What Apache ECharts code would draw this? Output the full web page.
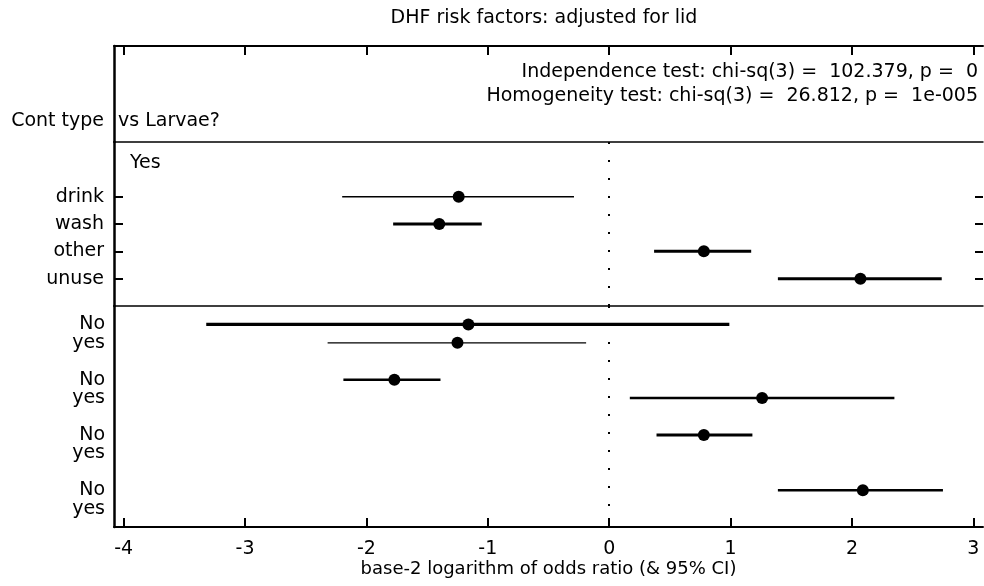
<!DOCTYPE html>
<html><head><meta charset="utf-8">
<script src="https://cdn.jsdelivr.net/npm/echarts@6/dist/echarts.min.js"></script>
<style>html,body{margin:0;padding:0;background:#fff}#chart{width:984px;height:586px}</style>
</head><body><div id="chart"></div>
<script>
// ---------- data ----------
const xTicks = [-4, -3, -2, -1, 0, 1, 2, 3];
const upperRows = ['drink', 'wash', 'other', 'unuse'];
const upperEst = [-1.24, -1.40, 0.78, 2.07];
const upperLo  = [-2.20, -1.78, 0.37, 1.39];
const upperHi  = [-0.29, -1.05, 1.17, 2.74];
const lowerLevels = ['No', 'yes'];
const lowerGroupCount = 4;
const lowerEst = [-1.16, -1.25, -1.77, 1.26, 0.78, null, 2.09, null];
const lowerLo  = [-3.32, -2.32, -2.19, 0.17, 0.39, null, 1.39, null];
const lowerHi  = [ 0.99, -0.19, -1.39, 2.35, 1.18, null, 2.75, null];
const titleText = 'DHF risk factors: adjusted for lid';
const factorLabel = 'Cont type';
const outcomeLabel = 'vs Larvae?';
const upperGroupLabel = 'Yes';
const testLines = [
  'Independence test: chi-sq(3) =  102.379, p =  0',
  'Homogeneity test: chi-sq(3) =  26.812, p =  1e-005'
];
const xName = 'base-2 logarithm of odds ratio (& 95% CI)';

// ---------- styles ----------
const upperCiWidth = [1.5, 3, 3, 3];
const lowerCiWidth = [3.2, 1.2, 2.5, 2.5, 3, 0, 2.5, 0];
const FONT = 'DejaVu Sans';
const FS = 19;
const XMIN = -4.08, XMAX = 3.08;

// ---------- build categories ----------
const upperCats = ['', ''].concat(upperRows, ['']);
const upperIdx = upperRows.map((_, i) => i + 2);
const lowerCats = [];
for (let g = 0; g < lowerGroupCount; g++) { lowerCats.push(''); lowerLevels.forEach(l => lowerCats.push(l)); }
lowerCats.push('');
const lowerIdx = lowerEst.map((_, i) => Math.floor(i / 2) * 3 + 1 + (i % 2));

const upperCiData = [], upperPtData = [];
upperRows.forEach((r, i) => {
  upperCiData.push({ value: [upperLo[i], upperHi[i], upperIdx[i]], w: upperCiWidth[i] });
  upperPtData.push([upperEst[i], upperIdx[i]]);
});
const lowerCiData = [], lowerPtData = [];
lowerEst.forEach((e, i) => {
  if (e === null) return;
  lowerCiData.push({ value: [lowerLo[i], lowerHi[i], lowerIdx[i]], w: lowerCiWidth[i] });
  lowerPtData.push([e, lowerIdx[i]]);
});

function ciRender(dataArr) {
  return function (params, api) {
    const a = api.coord([api.value(0), api.value(2)]);
    const b = api.coord([api.value(1), api.value(2)]);
    return { type: 'line', shape: { x1: a[0], y1: a[1], x2: b[0], y2: b[1] },
      style: { stroke: '#000', lineWidth: dataArr[params.dataIndex].w } };
  };
}

const zeroLine = {
  silent: true, symbol: 'none', label: { show: false },
  lineStyle: { color: '#000', type: [2, 16], width: 2, opacity: 1 },
  emphasis: { disabled: true },
  data: [{ xAxis: 0 }]
};

const baseX = { type: 'value', min: XMIN, max: XMAX, splitLine: { show: false } };
const fontStr = FS + 'px "' + FONT + '"';

const chart = echarts.init(document.getElementById('chart'));
chart.setOption({
  animation: false,
  backgroundColor: '#fff',
  textStyle: { fontFamily: FONT },
  grid: [
    { left: 114, right: 1, top: 46, height: 96 },
    { left: 114, right: 1, top: 142, height: 164 },
    { left: 114, right: 1, top: 306, height: 221 }
  ],
  xAxis: [
    Object.assign({}, baseX, { gridIndex: 0, position: 'top',
      axisLine: { show: true, onZero: false, lineStyle: { color: '#000', width: 2 } },
      axisTick: { show: true, inside: true, length: 9, customValues: xTicks, lineStyle: { color: '#000', width: 2 } },
      axisLabel: { show: false } }),
    Object.assign({}, baseX, { gridIndex: 1, position: 'top',
      axisLine: { show: true, onZero: false, lineStyle: { color: '#000', width: 1.5 } },
      axisTick: { show: false }, axisLabel: { show: false } }),
    Object.assign({}, baseX, { gridIndex: 2, position: 'top',
      axisLine: { show: true, onZero: false, lineStyle: { color: '#000', width: 1.5 } },
      axisTick: { show: false }, axisLabel: { show: false } }),
    Object.assign({}, baseX, { gridIndex: 2, position: 'bottom',
      axisLine: { show: true, onZero: false, lineStyle: { color: '#000', width: 2 } },
      axisTick: { show: true, inside: true, length: 9, customValues: xTicks, lineStyle: { color: '#000', width: 2 } },
      axisLabel: { customValues: xTicks, color: '#000', fontSize: FS, fontFamily: FONT, margin: 13 },
      name: xName, nameLocation: 'middle', nameGap: 33,
      nameTextStyle: { color: '#000', fontSize: 18, fontFamily: FONT } })
  ],
  yAxis: [
    { type: 'value', gridIndex: 0, min: 0, max: 1, splitLine: { show: false },
      axisLine: { show: true, onZero: false, lineStyle: { color: '#000', width: 2.5 } },
      axisTick: { show: false }, axisLabel: { show: false } },
    { type: 'category', gridIndex: 1, data: upperCats, inverse: true, boundaryGap: false,
      axisLine: { show: true, onZero: false, lineStyle: { color: '#000', width: 2.5 } },
      axisTick: { show: true, inside: true, length: 9, interval: (i, v) => v !== '', lineStyle: { color: '#000', width: 2 } },
      axisLabel: { interval: 0, color: '#000', fontSize: FS, fontFamily: FONT, margin: 10 } },
    { type: 'category', gridIndex: 1, position: 'right', data: upperCats, inverse: true, boundaryGap: false,
      axisLine: { show: false, onZero: false },
      axisTick: { show: true, inside: true, length: 8, interval: (i, v) => v !== '', lineStyle: { color: '#000', width: 2 } },
      axisLabel: { show: false } },
    { type: 'category', gridIndex: 2, data: lowerCats, inverse: true, boundaryGap: false,
      axisLine: { show: true, onZero: false, lineStyle: { color: '#000', width: 2.5 } },
      axisTick: { show: false },
      axisLabel: { interval: 0, color: '#000', fontSize: FS, fontFamily: FONT, margin: 9 } }
  ],
  series: [
    { type: 'custom', xAxisIndex: 1, yAxisIndex: 1, data: upperCiData,
      encode: { x: [0, 1], y: 2 }, renderItem: ciRender(upperCiData), silent: true },
    { type: 'scatter', xAxisIndex: 1, yAxisIndex: 1, data: upperPtData, symbol: 'circle', symbolSize: 12,
      itemStyle: { color: '#000', opacity: 1 }, silent: true, markLine: zeroLine, z: 3 },
    { type: 'custom', xAxisIndex: 3, yAxisIndex: 3, data: lowerCiData,
      encode: { x: [0, 1], y: 2 }, renderItem: ciRender(lowerCiData), silent: true },
    { type: 'scatter', xAxisIndex: 3, yAxisIndex: 3, data: lowerPtData, symbol: 'circle', symbolSize: 12,
      itemStyle: { color: '#000', opacity: 1 }, silent: true, markLine: zeroLine, z: 3 }
  ],
  graphic: [
    { type: 'text', x: 544, y: 18, style: { text: titleText, font: fontStr, fill: '#000', align: 'center', verticalAlign: 'middle' } },
    { type: 'text', x: 978, y: 72, style: { text: testLines[0], font: fontStr, fill: '#000', align: 'right', verticalAlign: 'middle' } },
    { type: 'text', x: 978, y: 96, style: { text: testLines[1], font: fontStr, fill: '#000', align: 'right', verticalAlign: 'middle' } },
    { type: 'text', x: 104, y: 121, style: { text: factorLabel, font: fontStr, fill: '#000', align: 'right', verticalAlign: 'middle' } },
    { type: 'text', x: 118, y: 121, style: { text: outcomeLabel, font: fontStr, fill: '#000', align: 'left', verticalAlign: 'middle' } },
    { type: 'text', x: 130, y: 163, style: { text: upperGroupLabel, font: fontStr, fill: '#000', align: 'left', verticalAlign: 'middle' } }
  ]
});
</script>
</body></html>
